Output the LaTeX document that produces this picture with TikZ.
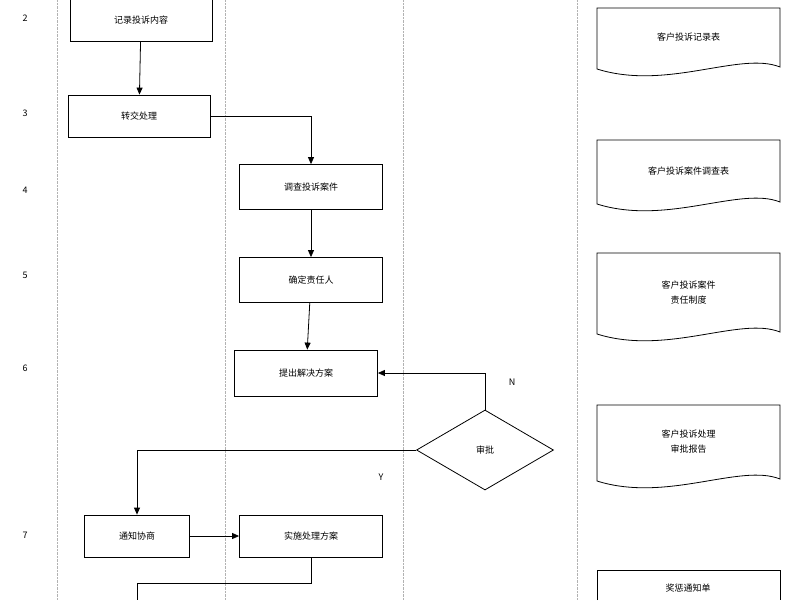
\documentclass[tikz,border=0pt]{standalone}
\usepackage{fontspec}
\setmainfont{Noto Sans CJK SC}
\usetikzlibrary{shapes.geometric,arrows.meta}
\tikzset{
  task/.style={draw,thick,minimum height=42pt,font=\small},
  lane/.style={gray!60,densely dotted,thin},
  num/.style={font=\small},
  flow/.style={-{Triangle[length=7pt,width=6pt]},thick},
  papertext/.style={font=\small,align=center}
}
\newcommand{\paper}[5]{% name, x1, y1, x2, y2
  \draw[thick] (#2,#3+8) -- (#2,#3) -- (#4,#3) -- (#4,#5-8)
    .. controls (#4-40,#5-24) and (#2+70,#5+16) .. (#2,#5-6) -- cycle;
  \coordinate (#1) at ({(#2+#4)/2},{(#3+#5)/2-4});}
\begin{document}
\begin{tikzpicture}[x=1pt,y=-1pt]
\useasboundingbox (0,0) rectangle (800,600);
\foreach \lx in {57,225,403,577}
  \draw[lane] (\lx,0) -- (\lx,600);

\node[num] at (25,18) {2};
\node[num] at (25,113) {3};
\node[num] at (25,190) {4};
\node[num] at (25,275) {5};
\node[num] at (25,368) {6};
\node[num] at (25,535) {7};

\node[task,minimum width=142pt] (record) at (141,20) {记录投诉内容};
\node[task,minimum width=142pt] (transfer) at (139,116) {转交处理};
\node[task,minimum width=143pt,minimum height=45pt] (survey) at (311,187) {调查投诉案件};
\node[task,minimum width=143pt,minimum height=45pt] (owner) at (311,280) {确定责任人};
\node[task,minimum width=143pt,minimum height=46pt] (plan) at (306,373) {提出解决方案};
\node[draw,thick,diamond,aspect=1.7,minimum width=137pt,minimum height=80pt,font=\small] (approve) at (485,450) {审批};
\node[task,minimum width=105pt] (notify) at (137,536) {通知协商};
\node[task,minimum width=143pt] (execute) at (311,536) {实施处理方案};

\draw[flow] (record) -- (transfer);
\draw[flow] (transfer.east) -| (survey.north);
\draw[flow] (survey) -- (owner);
\draw[flow] (owner) -- (plan);
\draw[flow] (approve.north) |- (plan.east);
\node[font=\small] at (512,382) {N};
\draw[flow] (approve.west) -| (notify.north);
\node[font=\small] at (381,477) {Y};
\draw[flow] (notify) -- (execute);
\coordinate (out) at (137,600);
\draw[thick] (execute.south) |- (137,583) -- (out);

\paper{d1}{597}{8}{780}{75}
\node[papertext] at (d1) {客户投诉记录表};
\paper{d2}{597}{140}{780}{210}
\node[papertext] at (d2) {客户投诉案件调查表};
\paper{d3}{597}{253}{780}{340}
\node[papertext] at (d3) {客户投诉案件\\[4pt]责任制度};
\paper{d4}{597}{405}{780}{487}
\node[papertext] at (d4) {客户投诉处理\\[4pt]审批报告};
\draw[thick] (597,600) -- (597,570) -- (780,570) -- (780,600);
\node[papertext] (d5) at (688,588) {奖惩通知单};
\end{tikzpicture}
\end{document}
